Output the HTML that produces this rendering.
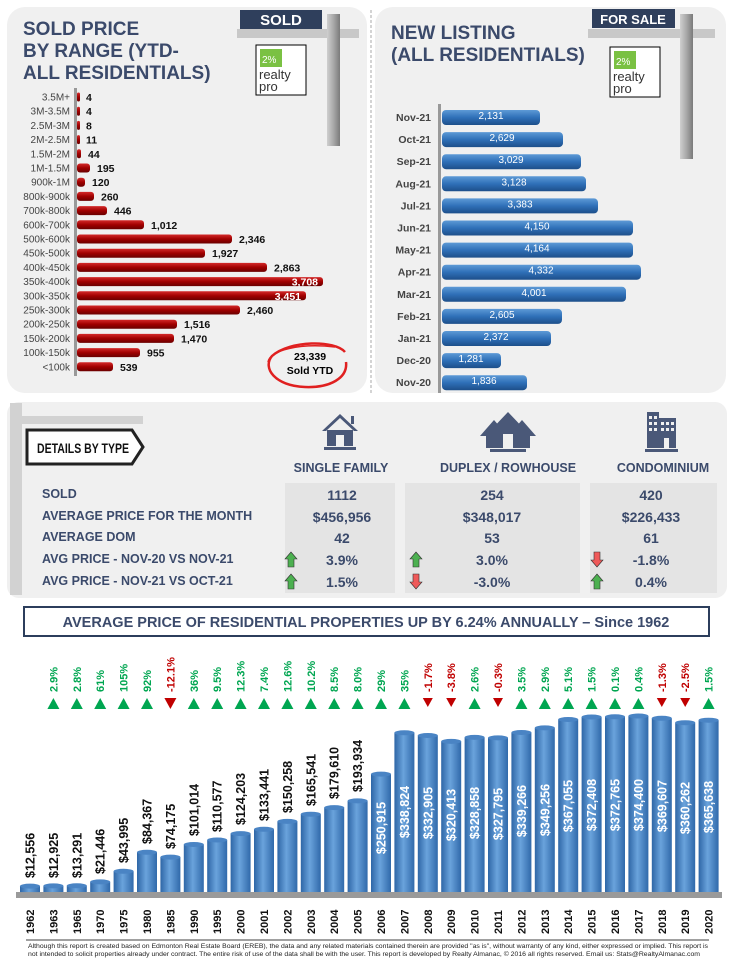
<!DOCTYPE html>
<html><head><meta charset="utf-8"><style>
body{margin:0;background:#fff;width:737px;height:960px;overflow:hidden}
svg{display:block;font-family:"Liberation Sans",sans-serif}
.nar{font-family:"Liberation Sans Narrow","Liberation Sans",sans-serif}
</style></head><body>
<svg width="737" height="960" viewBox="0 0 737 960" xmlns="http://www.w3.org/2000/svg">
<defs>
<linearGradient id="rg" x1="0" y1="0" x2="0" y2="1"><stop offset="0" stop-color="#d42a2a"/><stop offset="0.5" stop-color="#a00000"/><stop offset="1" stop-color="#6a0000"/></linearGradient>
<linearGradient id="bg" x1="0" y1="0" x2="0" y2="1"><stop offset="0" stop-color="#5d9ad6"/><stop offset="0.5" stop-color="#2f70b8"/><stop offset="1" stop-color="#1d4f8a"/></linearGradient>
<linearGradient id="cg" x1="0" y1="0" x2="1" y2="0"><stop offset="0" stop-color="#2e66a6"/><stop offset="0.45" stop-color="#6aa3dc"/><stop offset="1" stop-color="#3069aa"/></linearGradient>
<linearGradient id="pg" x1="0" y1="0" x2="1" y2="0"><stop offset="0" stop-color="#cfcfcf"/><stop offset="0.5" stop-color="#a8a8a8"/><stop offset="1" stop-color="#7a7a7a"/></linearGradient>
</defs>
<rect x="7" y="7" width="360" height="386" rx="18" fill="#f0f0f0"/>
<rect x="375" y="7" width="351" height="386" rx="18" fill="#f0f0f0"/>
<line x1="371" y1="10" x2="371" y2="393" stroke="#aaa" stroke-dasharray="3,2"/>
<rect x="7" y="402" width="720" height="196" rx="12" fill="#f0f0f0"/>

<g font-weight="bold" font-size="19" fill="#3b4a6b">
<text x="23" y="35">SOLD PRICE</text>
<text x="23" y="57">BY RANGE (YTD-</text>
<text x="23" y="79">ALL RESIDENTIALS)</text>
<text x="391" y="39">NEW LISTING</text>
<text x="391" y="61">(ALL RESIDENTIALS)</text>
</g>
<rect x="237" y="29" width="122" height="9" fill="#c8c8c8"/>
<rect x="327" y="14" width="13" height="132" fill="url(#pg)"/>
<rect x="240" y="10" width="82" height="19" fill="#2f3f5c"/>
<text x="281" y="25" text-anchor="middle" font-weight="bold" font-size="15" fill="#fff">SOLD</text>
<rect x="256" y="45" width="50" height="50" fill="#fff" stroke="#000"/>
<rect x="260" y="49" width="22" height="18" fill="#7ac143"/>
<text x="262" y="63" font-size="10" fill="#fff">2%</text>
<text x="259" y="79" font-size="13" fill="#333">realty</text>
<text x="259" y="91" font-size="13" fill="#333">pro</text>
<rect x="588" y="29" width="127" height="9" fill="#c8c8c8"/>
<rect x="680" y="14" width="13" height="145" fill="url(#pg)"/>
<rect x="592" y="9" width="83" height="19" fill="#2f3f5c"/>
<text x="633" y="24" text-anchor="middle" font-weight="bold" font-size="13" fill="#fff">FOR SALE</text>
<rect x="610" y="47" width="50" height="50" fill="#fff" stroke="#000"/>
<rect x="614" y="51" width="22" height="18" fill="#7ac143"/>
<text x="616" y="65" font-size="10" fill="#fff">2%</text>
<text x="613" y="81" font-size="13" fill="#333">realty</text>
<text x="613" y="93" font-size="13" fill="#333">pro</text>

<rect x="74" y="88" width="3" height="288" fill="#999"/>
<g font-size="10" fill="#444" text-anchor="end">
<text x="70" y="100.5">3.5M+</text><text x="70" y="114.7">3M-3.5M</text><text x="70" y="128.9">2.5M-3M</text><text x="70" y="143.1">2M-2.5M</text><text x="70" y="157.3">1.5M-2M</text><text x="70" y="171.5">1M-1.5M</text><text x="70" y="185.7">900k-1M</text><text x="70" y="199.9">800k-900k</text><text x="70" y="214.1">700k-800k</text><text x="70" y="228.3">600k-700k</text><text x="70" y="242.5">500k-600k</text><text x="70" y="256.7">450k-500k</text><text x="70" y="270.9">400k-450k</text><text x="70" y="285.1">350k-400k</text><text x="70" y="299.3">300k-350k</text><text x="70" y="313.5">250k-300k</text><text x="70" y="327.7">200k-250k</text><text x="70" y="341.9">150k-200k</text><text x="70" y="356.1">100k-150k</text><text x="70" y="370.3">&lt;100k</text>
</g>
<g fill="url(#rg)">
<rect x="77" y="92.5" width="3" height="9" rx="1.5"/><rect x="77" y="106.7" width="3" height="9" rx="1.5"/><rect x="77" y="120.9" width="3" height="9" rx="1.5"/><rect x="77" y="135.1" width="3" height="9" rx="1.5"/><rect x="77" y="149.3" width="4" height="9" rx="2"/><rect x="77" y="163.5" width="13" height="9" rx="3"/><rect x="77" y="177.7" width="8" height="9" rx="3"/><rect x="77" y="191.9" width="17" height="9" rx="3"/><rect x="77" y="206.1" width="30" height="9" rx="3"/><rect x="77" y="220.3" width="67" height="9" rx="3"/><rect x="77" y="234.5" width="155" height="9" rx="3"/><rect x="77" y="248.7" width="128" height="9" rx="3"/><rect x="77" y="262.9" width="190" height="9" rx="3"/><rect x="77" y="277.1" width="246" height="9" rx="3"/><rect x="77" y="291.3" width="229" height="9" rx="3"/><rect x="77" y="305.5" width="163" height="9" rx="3"/><rect x="77" y="319.7" width="100" height="9" rx="3"/><rect x="77" y="333.9" width="97" height="9" rx="3"/><rect x="77" y="348.1" width="63" height="9" rx="3"/><rect x="77" y="362.3" width="36" height="9" rx="3"/>
</g>
<g font-size="10.5" font-weight="bold" fill="#111">
<text x="86" y="101">4</text><text x="86" y="115.2">4</text><text x="86" y="129.4">8</text><text x="86" y="143.6">11</text><text x="88" y="157.8">44</text><text x="97" y="172">195</text><text x="92" y="186.2">120</text><text x="101" y="200.4">260</text><text x="114" y="214.6">446</text><text x="151" y="228.8">1,012</text><text x="239" y="243">2,346</text><text x="212" y="257.2">1,927</text><text x="274" y="271.4">2,863</text><text x="318" y="285.6" text-anchor="end" fill="#fff">3,708</text><text x="301" y="299.8" text-anchor="end" fill="#fff">3,451</text><text x="247" y="314">2,460</text><text x="184" y="328.2">1,516</text><text x="181" y="342.4">1,470</text><text x="147" y="356.6">955</text><text x="120" y="370.8">539</text>
</g>
<path d="M345 352 C 335 340, 290 340, 272 356 C 262 368, 275 386, 305 387 C 330 388, 348 378, 346 362" fill="none" stroke="#e02020" stroke-width="2.5"/>
<path d="M268 362 C 270 350, 300 343, 335 347" fill="none" stroke="#e02020" stroke-width="1.5"/>
<text x="310" y="360" text-anchor="middle" font-size="10.5" font-weight="bold">23,339</text>
<text x="310" y="374" text-anchor="middle" font-size="10.5" font-weight="bold">Sold YTD</text>

<rect x="438" y="104" width="3" height="289" fill="#999"/>
<g font-size="10.5" font-weight="bold" fill="#444" text-anchor="end">
<text x="431" y="121">Nov-21</text><text x="431" y="143.1">Oct-21</text><text x="431" y="165.2">Sep-21</text><text x="431" y="187.3">Aug-21</text><text x="431" y="209.4">Jul-21</text><text x="431" y="231.5">Jun-21</text><text x="431" y="253.6">May-21</text><text x="431" y="275.7">Apr-21</text><text x="431" y="297.8">Mar-21</text><text x="431" y="319.9">Feb-21</text><text x="431" y="342">Jan-21</text><text x="431" y="364.1">Dec-20</text><text x="431" y="386.2">Nov-20</text>
</g>
<g fill="url(#bg)">
<rect x="442" y="110" width="98" height="15" rx="4"/><rect x="442" y="132.1" width="121" height="15" rx="4"/><rect x="442" y="154.2" width="139" height="15" rx="4"/><rect x="442" y="176.3" width="144" height="15" rx="4"/><rect x="442" y="198.4" width="156" height="15" rx="4"/><rect x="442" y="220.5" width="191" height="15" rx="4"/><rect x="442" y="242.6" width="191" height="15" rx="4"/><rect x="442" y="264.7" width="199" height="15" rx="4"/><rect x="442" y="286.8" width="184" height="15" rx="4"/><rect x="442" y="308.9" width="120" height="15" rx="4"/><rect x="442" y="331" width="109" height="15" rx="4"/><rect x="442" y="353.1" width="59" height="15" rx="4"/><rect x="442" y="375.2" width="85" height="15" rx="4"/>
</g>
<g font-size="10" fill="#fff" text-anchor="middle">
<text x="491" y="119">2,131</text><text x="502" y="141.1">2,629</text><text x="511" y="163.2">3,029</text><text x="514" y="185.3">3,128</text><text x="520" y="207.4">3,383</text><text x="537" y="229.5">4,150</text><text x="537" y="251.6">4,164</text><text x="541" y="273.7">4,332</text><text x="534" y="295.8">4,001</text><text x="502" y="317.9">2,605</text><text x="496" y="340">2,372</text><text x="471" y="362.1">1,281</text><text x="484" y="384.2">1,836</text>
</g>

<rect x="10" y="416" width="133" height="8" fill="#d2d2d2"/>
<rect x="10" y="403" width="12" height="192" fill="#d2d2d2"/>
<path d="M27 430 H132 L143 447 L132 464 H27 Z" fill="#fff" stroke="#222" stroke-width="3"/>
<text x="37" y="453" font-weight="bold" font-size="14" class="nar" fill="#111" textLength="92" lengthAdjust="spacingAndGlyphs">DETAILS BY TYPE</text>
<g fill="#4a5878">
<path d="M340 414 L322 431 L326 431 L340 418 L354 431 L358 431 Z"/><rect x="327" y="430" width="26" height="16"/><rect x="351" y="416" width="3" height="8"/><rect x="324" y="447" width="32" height="3"/>
<rect x="336" y="435" width="8" height="11" fill="#f0f0f0"/>
<path d="M494 420 L480 436 L486 436 L486 448 L502 448 L502 436 L508 436 Z"/>
<path d="M522 420 L508 436 L514 436 L514 448 L530 448 L530 436 L536 436 Z"/>
<path d="M508 412 L489 432 L495 432 L495 448 L521 448 L521 432 L527 432 Z"/>
<rect x="503" y="434" width="10" height="14" fill="#f0f0f0"/>
<rect x="490" y="449" width="36" height="3"/>
<rect x="647" y="412" width="12" height="36"/><rect x="659" y="418" width="17" height="30"/><rect x="645" y="449" width="33" height="3"/>
</g>
<g fill="#f0f0f0">
<rect x="649" y="416" width="3" height="3"/><rect x="654" y="416" width="3" height="3"/><rect x="649" y="422" width="3" height="3"/><rect x="654" y="422" width="3" height="3"/><rect x="649" y="428" width="3" height="3"/><rect x="654" y="428" width="3" height="3"/>
<rect x="661" y="422" width="3" height="3"/><rect x="666" y="422" width="3" height="3"/><rect x="671" y="422" width="3" height="3"/><rect x="661" y="428" width="3" height="3"/><rect x="666" y="428" width="3" height="3"/><rect x="671" y="428" width="3" height="3"/><rect x="664" y="438" width="5" height="10"/>
</g>
<g font-weight="bold" font-size="12.5" class="nar" fill="#3b4a6b" text-anchor="middle">
<text x="341" y="472">SINGLE FAMILY</text><text x="508" y="472">DUPLEX / ROWHOUSE</text><text x="663" y="472">CONDOMINIUM</text>
</g>
<rect x="285" y="483" width="110" height="110" fill="#e4e4e4"/>
<rect x="405" y="483" width="175" height="110" fill="#e4e4e4"/>
<rect x="590" y="483" width="127" height="110" fill="#e4e4e4"/>
<g font-weight="bold" font-size="12.5" class="nar" fill="#3b4a6b">
<text x="42" y="498">SOLD</text><text x="42" y="520">AVERAGE PRICE FOR THE MONTH</text><text x="42" y="541">AVERAGE DOM</text><text x="42" y="563">AVG PRICE - NOV-20 VS NOV-21</text><text x="42" y="585">AVG PRICE - NOV-21 VS OCT-21</text>
</g>
<g font-weight="bold" font-size="14" class="nar" fill="#3b4a6b" text-anchor="middle">
<text x="342" y="500">1112</text><text x="492" y="500">254</text><text x="651" y="500">420</text>
<text x="342" y="522">$456,956</text><text x="492" y="522">$348,017</text><text x="651" y="522">$226,433</text>
<text x="342" y="543">42</text><text x="492" y="543">53</text><text x="651" y="543">61</text>
<text x="342" y="565">3.9%</text><text x="492" y="565">3.0%</text><text x="651" y="565">-1.8%</text>
<text x="342" y="587">1.5%</text><text x="492" y="587">-3.0%</text><text x="651" y="587">0.4%</text>
</g>
<g stroke="#333" stroke-width="0.6">
<path d="M291 552 L297 559 H294 V567 H288 V559 H285 Z" fill="#4cb050"/>
<path d="M291 574 L297 581 H294 V589 H288 V581 H285 Z" fill="#4cb050"/>
<path d="M416 552 L422 559 H419 V567 H413 V559 H410 Z" fill="#4cb050"/>
<path d="M416 589 L422 582 H419 V574 H413 V582 H410 Z" fill="#ef5a5a"/>
<path d="M597 567 L603 560 H600 V552 H594 V560 H591 Z" fill="#ef5a5a"/>
<path d="M597 574 L603 581 H600 V589 H594 V581 H591 Z" fill="#4cb050"/>
</g>

<rect x="24" y="607" width="685" height="29" fill="#fff" stroke="#2c3e5c" stroke-width="2"/>
<text x="366" y="627" text-anchor="middle" font-weight="bold" font-size="14.5" fill="#3b4a6b">AVERAGE PRICE OF RESIDENTIAL PROPERTIES UP BY 6.24% ANNUALLY – Since 1962</text>

<rect x="16" y="892" width="706" height="6" fill="#9a9a9a"/>
<g fill="url(#cg)">
<rect x="20" y="886.1" width="20" height="6"/><rect x="43.4" y="885.9" width="20" height="6.1"/><rect x="66.8" y="885.8" width="20" height="6.2"/><rect x="90.2" y="881.9" width="20" height="10.1"/><rect x="113.6" y="871.3" width="20" height="20.7"/><rect x="137" y="852.3" width="20" height="39.7"/><rect x="160.4" y="857.1" width="20" height="34.9"/><rect x="183.8" y="844.5" width="20" height="47.5"/><rect x="207.2" y="840" width="20" height="52"/><rect x="230.6" y="833.6" width="20" height="58.4"/><rect x="254" y="829.3" width="20" height="62.7"/><rect x="277.4" y="821.4" width="20" height="70.6"/><rect x="300.8" y="814.2" width="20" height="77.8"/><rect x="324.2" y="807.6" width="20" height="84.4"/><rect x="347.6" y="800.9" width="20" height="91.1"/><rect x="371" y="774.1" width="20" height="117.9"/><rect x="394.4" y="732.8" width="20" height="159.2"/><rect x="417.8" y="735.5" width="20" height="156.5"/><rect x="441.2" y="741.4" width="20" height="150.6"/><rect x="464.6" y="737.4" width="20" height="154.6"/><rect x="488" y="737.9" width="20" height="154.1"/><rect x="511.4" y="732.5" width="20" height="159.5"/><rect x="534.8" y="727.9" width="20" height="164.1"/><rect x="558.2" y="719.5" width="20" height="172.5"/><rect x="581.6" y="717" width="20" height="175"/><rect x="605" y="716.8" width="20" height="175.2"/><rect x="628.4" y="716" width="20" height="176"/><rect x="651.8" y="718.3" width="20" height="173.7"/><rect x="675.2" y="722.7" width="20" height="169.3"/><rect x="698.6" y="720.2" width="20" height="171.8"/>
</g>
<g fill="#4a84c4">
<ellipse cx="30" cy="886.1" rx="10" ry="2.5"/><ellipse cx="53.4" cy="885.9" rx="10" ry="2.5"/><ellipse cx="76.8" cy="885.8" rx="10" ry="2.5"/><ellipse cx="100.2" cy="881.9" rx="10" ry="2.5"/><ellipse cx="123.6" cy="871.3" rx="10" ry="2.5"/><ellipse cx="147" cy="852.3" rx="10" ry="2.5"/><ellipse cx="170.4" cy="857.1" rx="10" ry="2.5"/><ellipse cx="193.8" cy="844.5" rx="10" ry="2.5"/><ellipse cx="217.2" cy="840" rx="10" ry="2.5"/><ellipse cx="240.6" cy="833.6" rx="10" ry="2.5"/><ellipse cx="264" cy="829.3" rx="10" ry="2.5"/><ellipse cx="287.4" cy="821.4" rx="10" ry="2.5"/><ellipse cx="310.8" cy="814.2" rx="10" ry="2.5"/><ellipse cx="334.2" cy="807.6" rx="10" ry="2.5"/><ellipse cx="357.6" cy="800.9" rx="10" ry="2.5"/><ellipse cx="381" cy="774.1" rx="10" ry="2.5"/><ellipse cx="404.4" cy="732.8" rx="10" ry="2.5"/><ellipse cx="427.8" cy="735.5" rx="10" ry="2.5"/><ellipse cx="451.2" cy="741.4" rx="10" ry="2.5"/><ellipse cx="474.6" cy="737.4" rx="10" ry="2.5"/><ellipse cx="498" cy="737.9" rx="10" ry="2.5"/><ellipse cx="521.4" cy="732.5" rx="10" ry="2.5"/><ellipse cx="544.8" cy="727.9" rx="10" ry="2.5"/><ellipse cx="568.2" cy="719.5" rx="10" ry="2.5"/><ellipse cx="591.6" cy="717" rx="10" ry="2.5"/><ellipse cx="615" cy="716.8" rx="10" ry="2.5"/><ellipse cx="638.4" cy="716" rx="10" ry="2.5"/><ellipse cx="661.8" cy="718.3" rx="10" ry="2.5"/><ellipse cx="685.2" cy="722.7" rx="10" ry="2.5"/><ellipse cx="708.6" cy="720.2" rx="10" ry="2.5"/>
</g>
<g font-weight="bold" font-size="12.5" fill="#111">
<text transform="translate(34.5,878) rotate(-90)">$12,556</text>
<text transform="translate(57.9,878) rotate(-90)">$12,925</text>
<text transform="translate(81.3,878) rotate(-90)">$13,291</text>
<text transform="translate(104.7,874) rotate(-90)">$21,446</text>
<text transform="translate(128.1,863) rotate(-90)">$43,995</text>
<text transform="translate(151.5,844) rotate(-90)">$84,367</text>
<text transform="translate(174.9,849) rotate(-90)">$74,175</text>
<text transform="translate(198.3,836) rotate(-90)">$101,014</text>
<text transform="translate(221.7,832) rotate(-90)">$110,577</text>
<text transform="translate(245.1,825) rotate(-90)">$124,203</text>
<text transform="translate(268.5,821) rotate(-90)">$133,441</text>
<text transform="translate(291.9,813) rotate(-90)">$150,258</text>
<text transform="translate(315.3,806) rotate(-90)">$165,541</text>
<text transform="translate(338.7,799) rotate(-90)">$179,610</text>
<text transform="translate(362.1,792) rotate(-90)">$193,934</text>
</g>
<g font-weight="bold" font-size="12.5" fill="#fff" text-anchor="middle">
<text transform="translate(385.5,828) rotate(-90)">$250,915</text>
<text transform="translate(408.9,812) rotate(-90)">$338,824</text>
<text transform="translate(432.3,813) rotate(-90)">$332,905</text>
<text transform="translate(455.7,815) rotate(-90)">$320,413</text>
<text transform="translate(479.1,813) rotate(-90)">$328,858</text>
<text transform="translate(502.5,814) rotate(-90)">$327,795</text>
<text transform="translate(525.9,811) rotate(-90)">$339,266</text>
<text transform="translate(549.3,810) rotate(-90)">$349,256</text>
<text transform="translate(572.7,806) rotate(-90)">$367,055</text>
<text transform="translate(596.1,805) rotate(-90)">$372,408</text>
<text transform="translate(619.5,805) rotate(-90)">$372,765</text>
<text transform="translate(642.9,805) rotate(-90)">$374,400</text>
<text transform="translate(666.3,806) rotate(-90)">$369,607</text>
<text transform="translate(689.7,808) rotate(-90)">$360,262</text>
<text transform="translate(713.1,807) rotate(-90)">$365,638</text>
</g>
<g font-weight="bold" font-size="11" fill="#00a651">
<text transform="translate(57.4,692) rotate(-90)">2.9%</text>
<text transform="translate(80.8,692) rotate(-90)">2.8%</text>
<text transform="translate(104.2,692) rotate(-90)">61%</text>
<text transform="translate(127.6,692) rotate(-90)">105%</text>
<text transform="translate(151,692) rotate(-90)">92%</text>
<text transform="translate(174.4,692) rotate(-90)" fill="#c00000">-12.1%</text>
<text transform="translate(197.8,692) rotate(-90)">36%</text>
<text transform="translate(221.2,692) rotate(-90)">9.5%</text>
<text transform="translate(244.6,692) rotate(-90)">12.3%</text>
<text transform="translate(268,692) rotate(-90)">7.4%</text>
<text transform="translate(291.4,692) rotate(-90)">12.6%</text>
<text transform="translate(314.8,692) rotate(-90)">10.2%</text>
<text transform="translate(338.2,692) rotate(-90)">8.5%</text>
<text transform="translate(361.6,692) rotate(-90)">8.0%</text>
<text transform="translate(385,692) rotate(-90)">29%</text>
<text transform="translate(408.4,692) rotate(-90)">35%</text>
<text transform="translate(431.8,692) rotate(-90)" fill="#c00000">-1.7%</text>
<text transform="translate(455.2,692) rotate(-90)" fill="#c00000">-3.8%</text>
<text transform="translate(478.6,692) rotate(-90)">2.6%</text>
<text transform="translate(502,692) rotate(-90)" fill="#c00000">-0.3%</text>
<text transform="translate(525.4,692) rotate(-90)">3.5%</text>
<text transform="translate(548.8,692) rotate(-90)">2.9%</text>
<text transform="translate(572.2,692) rotate(-90)">5.1%</text>
<text transform="translate(595.6,692) rotate(-90)">1.5%</text>
<text transform="translate(619,692) rotate(-90)">0.1%</text>
<text transform="translate(642.4,692) rotate(-90)">0.4%</text>
<text transform="translate(665.8,692) rotate(-90)" fill="#c00000">-1.3%</text>
<text transform="translate(689.2,692) rotate(-90)" fill="#c00000">-2.5%</text>
<text transform="translate(712.6,692) rotate(-90)">1.5%</text>
</g>
<g fill="#00a651">
<path d="M53.4 698 l6 11 h-12z"/><path d="M76.8 698 l6 11 h-12z"/><path d="M100.2 698 l6 11 h-12z"/><path d="M123.6 698 l6 11 h-12z"/><path d="M147 698 l6 11 h-12z"/><path d="M193.8 698 l6 11 h-12z"/><path d="M217.2 698 l6 11 h-12z"/><path d="M240.6 698 l6 11 h-12z"/><path d="M264 698 l6 11 h-12z"/><path d="M287.4 698 l6 11 h-12z"/><path d="M310.8 698 l6 11 h-12z"/><path d="M334.2 698 l6 11 h-12z"/><path d="M357.6 698 l6 11 h-12z"/><path d="M381 698 l6 11 h-12z"/><path d="M404.4 698 l6 11 h-12z"/><path d="M474.6 698 l6 11 h-12z"/><path d="M521.4 698 l6 11 h-12z"/><path d="M544.8 698 l6 11 h-12z"/><path d="M568.2 698 l6 11 h-12z"/><path d="M591.6 698 l6 11 h-12z"/><path d="M615 698 l6 11 h-12z"/><path d="M638.4 698 l6 11 h-12z"/><path d="M708.6 698 l6 11 h-12z"/>
</g>
<g fill="#c00000">
<path d="M170.4 709 l6 -11 h-12z"/><path d="M427.8 707 l5 -9 h-10z"/><path d="M451.2 707 l5 -9 h-10z"/><path d="M498 707 l5 -9 h-10z"/><path d="M661.8 707 l5 -9 h-10z"/><path d="M685.2 707 l5 -9 h-10z"/>
</g>
<g font-weight="bold" font-size="11" fill="#111">
<text transform="translate(34,934) rotate(-90)">1962</text><text transform="translate(57.4,934) rotate(-90)">1963</text><text transform="translate(80.8,934) rotate(-90)">1965</text><text transform="translate(104.2,934) rotate(-90)">1970</text><text transform="translate(127.6,934) rotate(-90)">1975</text><text transform="translate(151,934) rotate(-90)">1980</text><text transform="translate(174.4,934) rotate(-90)">1985</text><text transform="translate(197.8,934) rotate(-90)">1990</text><text transform="translate(221.2,934) rotate(-90)">1995</text><text transform="translate(244.6,934) rotate(-90)">2000</text><text transform="translate(268,934) rotate(-90)">2001</text><text transform="translate(291.4,934) rotate(-90)">2002</text><text transform="translate(314.8,934) rotate(-90)">2003</text><text transform="translate(338.2,934) rotate(-90)">2004</text><text transform="translate(361.6,934) rotate(-90)">2005</text><text transform="translate(385,934) rotate(-90)">2006</text><text transform="translate(408.4,934) rotate(-90)">2007</text><text transform="translate(431.8,934) rotate(-90)">2008</text><text transform="translate(455.2,934) rotate(-90)">2009</text><text transform="translate(478.6,934) rotate(-90)">2010</text><text transform="translate(502,934) rotate(-90)">2011</text><text transform="translate(525.4,934) rotate(-90)">2012</text><text transform="translate(548.8,934) rotate(-90)">2013</text><text transform="translate(572.2,934) rotate(-90)">2014</text><text transform="translate(595.6,934) rotate(-90)">2015</text><text transform="translate(619,934) rotate(-90)">2016</text><text transform="translate(642.4,934) rotate(-90)">2017</text><text transform="translate(665.8,934) rotate(-90)">2018</text><text transform="translate(689.2,934) rotate(-90)">2019</text><text transform="translate(712.6,934) rotate(-90)">2020</text>
</g>
<line x1="26" y1="940" x2="709" y2="940" stroke="#000" stroke-width="0.8"/>
<g font-size="6.3" fill="#222">
<text x="28" y="948" textLength="680" lengthAdjust="spacingAndGlyphs">Although this report is created based on Edmonton Real Estate Board (EREB), the data and any related materials contained therein are provided "as is", without warranty of any kind, either expressed or implied.  This report is</text>
<text x="28" y="956" textLength="672" lengthAdjust="spacingAndGlyphs">not intended to solicit properties already under contract.  The entire risk of use of the data shall be with the user.  This report is developed by Realty Almanac, © 2016 all rights reserved. Email us: Stats@RealtyAlmanac.com</text>
</g>
</svg>
</body></html>
